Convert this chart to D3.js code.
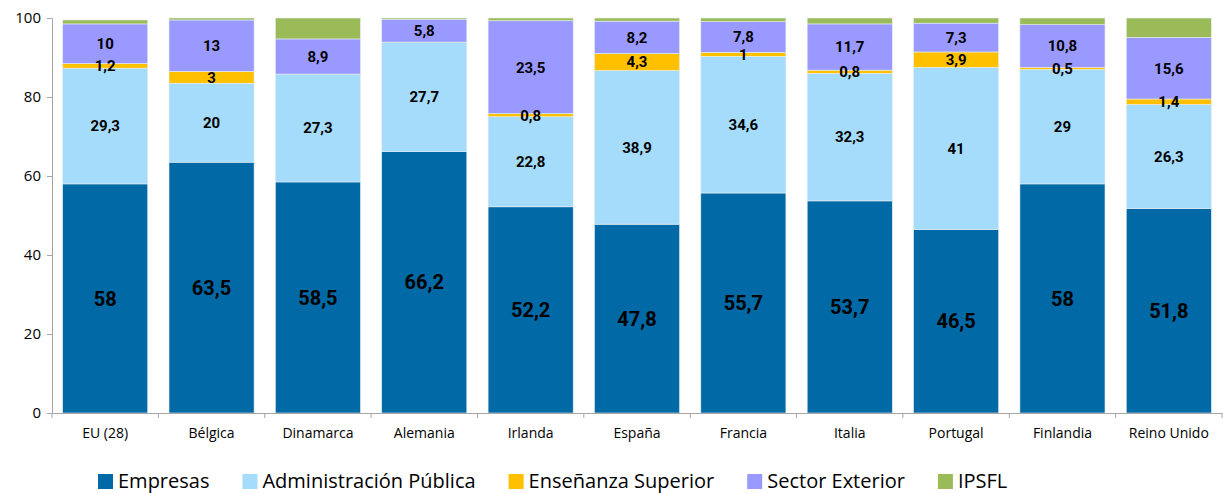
<!DOCTYPE html>
<html>
<head>
<meta charset="utf-8">
<script src="https://cdn.jsdelivr.net/npm/d3@7"></script>
<style>
  body { margin: 0; background: #fff; }
</style>
</head>
<body>
<svg id="chart" width="1223" height="493"></svg>
<script>
// Data
var paises = ["EU (28)", "Bélgica", "Dinamarca", "Alemania", "Irlanda", "España", "Francia", "Italia", "Portugal", "Finlandia", "Reino Unido"];
var empresas = [58, 63.5, 58.5, 66.2, 52.2, 47.8, 55.7, 53.7, 46.5, 58, 51.8];
var administracion = [29.3, 20, 27.3, 27.7, 22.8, 38.9, 34.6, 32.3, 41, 29, 26.3];
var ensenanza = [1.2, 3, 0, 0, 0.8, 4.3, 1, 0.8, 3.9, 0.5, 1.4];
var exterior = [10, 13, 8.9, 5.8, 23.5, 8.2, 7.8, 11.7, 7.3, 10.8, 15.6];
var ipsfl = [1, 0.5, 5.3, 0.3, 0.7, 0.8, 0.9, 1.5, 1.3, 1.7, 4.9];
var series = ["Empresas", "Administración Pública", "Enseñanza Superior", "Sector Exterior", "IPSFL"];
var yTicks = [0, 20, 40, 60, 80, 100];

var colores = ["#0169a6", "#a6dcfb", "#ffc000", "#9999ff", "#9bbb59"];
var valores = [empresas, administracion, ensenanza, exterior, ipsfl];

var svg = d3.select("#chart");
var margin = { top: 18, right: 1, bottom: 80, left: 52 };
var width = 1223 - margin.left - margin.right,
    height = 493 - margin.top - margin.bottom;

var g = svg.append("g").attr("transform", "translate(" + margin.left + "," + margin.top + ")");

// tabla para d3.stack
var tabla = paises.map(function(p, i) {
    var fila = { pais: p };
    series.forEach(function(s, k) { fila[s] = valores[k][i]; });
    return fila;
});
var stack = d3.stack().keys(series)(tabla);

var x = d3.scaleBand().domain(paises).range([0, width]).paddingInner(0.2).paddingOuter(0.1);
var y = d3.scaleLinear().domain([0, 100]).range([height, 0]);

// barras
var capas = g.selectAll(".capa")
    .data(stack)
    .enter().append("g")
    .attr("class", "capa")
    .attr("fill", function(d, i) { return colores[i]; });

capas.selectAll("rect")
    .data(function(d) { return d; })
    .enter().append("rect")
    .attr("x", function(d) { return x(d.data.pais); })
    .attr("y", function(d) { return y(d[1]); })
    .attr("width", x.bandwidth())
    .attr("height", function(d) { return y(d[0]) - y(d[1]); })
    .attr("stroke", "#e6eef3")
    .attr("stroke-width", 0.6);

// etiquetas (no para IPSFL ni valores 0)
stack.slice(0, 4).forEach(function(capa, k) {
    g.append("g").selectAll("text")
        .data(capa.filter(function(d) { return d[1] - d[0] > 0; }))
        .enter().append("text")
        .attr("x", function(d) { return x(d.data.pais) + x.bandwidth() / 2; })
        .attr("y", function(d) { return y((d[0] + d[1]) / 2); })
        .attr("text-anchor", "middle")
        .attr("dy", "0.36em")
        .style("font-family", "Roboto, sans-serif")
        .style("font-weight", "bold")
        .style("font-size", k === 0 ? "20px" : "15px")
        .attr("fill", "#000")
        .text(function(d) { return String(+(d[1] - d[0]).toFixed(1)).replace(".", ","); });
});

// ejes
var ejeY = g.append("g")
    .call(d3.axisLeft(y).tickValues(yTicks).tickSize(5).tickPadding(6));
var ejeX = g.append("g")
    .attr("transform", "translate(0," + height + ")")
    .call(d3.axisBottom(x).tickSize(0).tickPadding(15));

// ticks entre categorías
g.append("g").selectAll("line")
    .data(d3.range(paises.length + 1))
    .enter().append("line")
    .attr("x1", function(i) { return i * x.step(); })
    .attr("x2", function(i) { return i * x.step(); })
    .attr("y1", height)
    .attr("y2", height + 5)
    .attr("stroke", "#a6a6a6");

[ejeY, ejeX].forEach(function(e) {
    e.selectAll("path, line").attr("stroke", "#a6a6a6");
    e.selectAll("text").attr("fill", "#000").style("font-family", "'Open Sans', sans-serif");
});
ejeY.selectAll("text").style("font-size", "15px");
ejeX.selectAll("text").style("font-size", "14px");

// leyenda
var leyenda = svg.append("g").attr("transform", "translate(98,481)");
var posX = 0;
series.forEach(function(s, i) {
    var item = leyenda.append("g").attr("transform", "translate(" + posX + ",0)");
    item.append("rect")
        .attr("x", 0).attr("y", -7)
        .attr("width", 15).attr("height", 15)
        .attr("fill", colores[i]);
    var t = item.append("text")
        .attr("x", 20).attr("y", 0)
        .attr("dy", "0.35em")
        .style("font-family", "'Open Sans', sans-serif")
        .style("font-size", "20px")
        .attr("fill", "#000")
        .text(s);
    posX += 20 + t.node().getComputedTextLength() + 33;
});
</script>
</body>
</html>
